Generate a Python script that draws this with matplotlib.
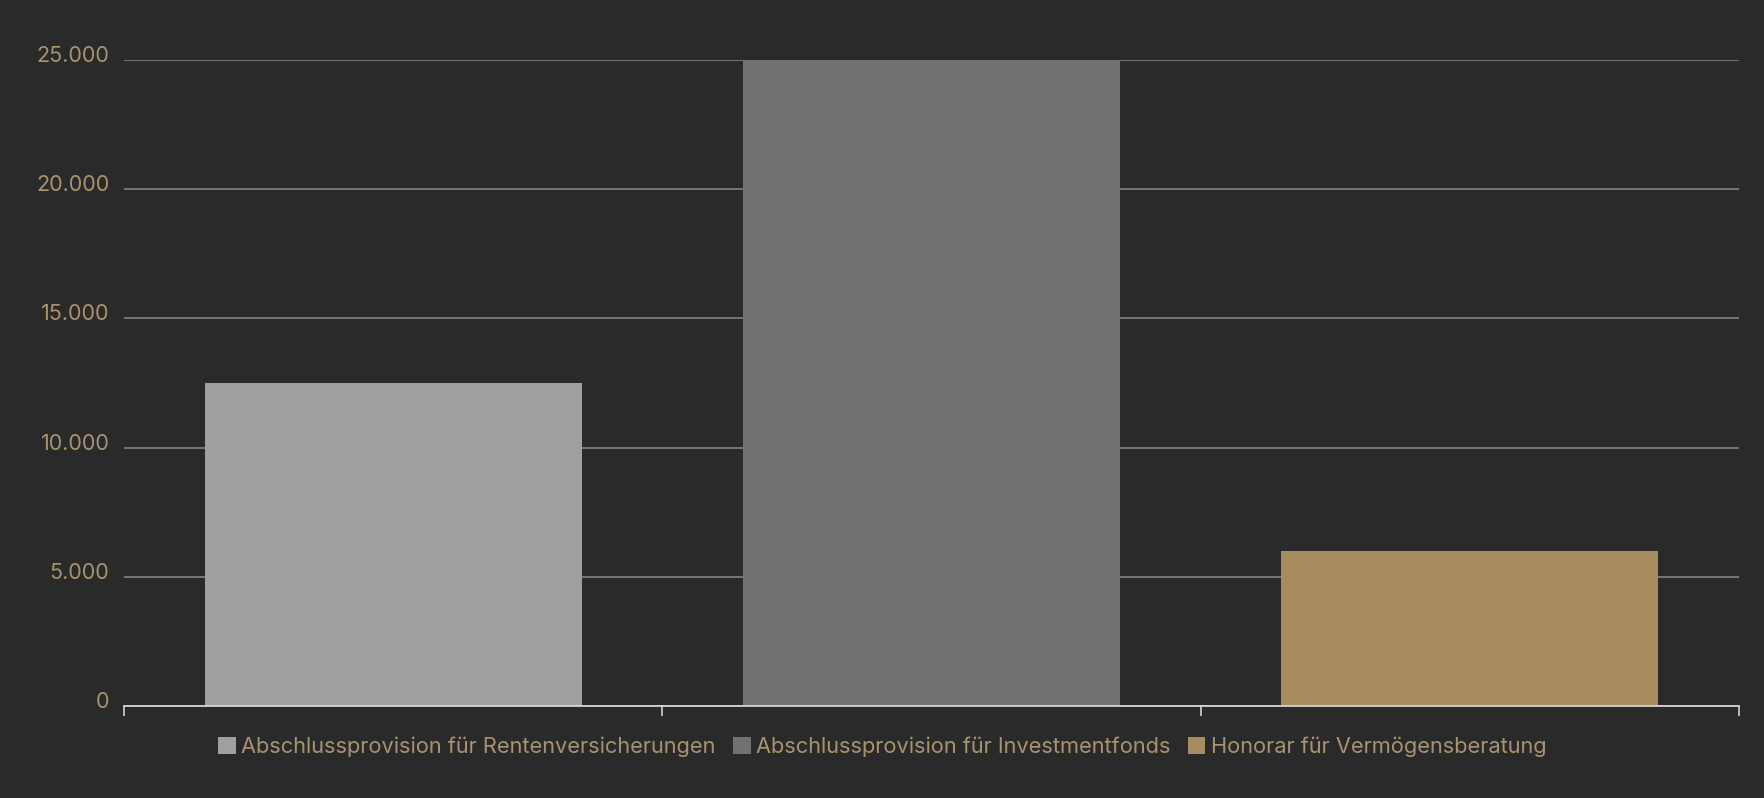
import matplotlib
matplotlib.use("Agg")
import matplotlib.pyplot as plt
import matplotlib.transforms as mtrans
from matplotlib.patches import Rectangle
from matplotlib.ticker import FuncFormatter, FixedLocator

categories = ["Abschlussprovision für Rentenversicherungen",
              "Abschlussprovision für Investmentfonds",
              "Honorar für Vermögensberatung"]
values = [12500, 25000, 6000]
colors = ["#a19fa1", "#737273", "#a68c5f"]
yticks = [0, 5000, 10000, 15000, 20000, 25000]

BG = "#2b2a2b"
TXT = "#a8936f"

plt.rcParams['font.family'] = ['Inter', 'DejaVu Sans']

W, H = 1765, 798
fig = plt.figure(figsize=(W / 100, H / 100), dpi=100, facecolor=BG)
left, right, top, bottom = 124, 1739, 60, 706
ax = fig.add_axes([left / W, 1 - bottom / H, (right - left) / W, (bottom - top) / H])
ax.set_facecolor(BG)

x = list(range(len(categories)))
ax.bar(x, values, width=0.7, color=colors, zorder=3)

ax.set_xlim(-0.5, len(categories) - 0.5)
ax.set_ylim(0, 25000)
ax.yaxis.set_major_locator(FixedLocator(yticks))
ax.yaxis.set_major_formatter(FuncFormatter(lambda v, p: f"{int(v):,}".replace(",", ".")))
ax.grid(axis='y', color='#8a8a8a', linewidth=1.1, zorder=1)
ax.set_axisbelow(True)

for s in ['top', 'right', 'left']:
    ax.spines[s].set_visible(False)
ax.spines['bottom'].set_color('#e0e0e0')
ax.spines['bottom'].set_linewidth(1.2)
ax.spines['bottom'].set_zorder(4)

ax.set_xticks([i - 0.5 for i in range(len(categories) + 1)])
ax.set_xticklabels([])
ax.tick_params(axis='x', colors='#e0e0e0', length=7, width=1.1, direction='out')
ax.tick_params(axis='y', length=0, pad=10.5, labelcolor=TXT, labelsize=15.5)
offset = mtrans.ScaledTranslation(0, 6 / 100, fig.dpi_scale_trans)
for t in ax.yaxis.get_major_ticks():
    t.label1.set_transform(t.label1.get_transform() + offset)

handles = [Rectangle((0, 0), 1, 1, facecolor=c, edgecolor='none') for c in colors]
leg = fig.legend(handles, categories, loc='center', bbox_to_anchor=(0.5, 1 - 747 / H),
                 ncol=3, frameon=False, fontsize=15.7, labelcolor=TXT,
                 handlelength=0.8, handleheight=0.8, handletextpad=0.25,
                 columnspacing=0.8)

fig.savefig("out.png", dpi=100, facecolor=BG)
